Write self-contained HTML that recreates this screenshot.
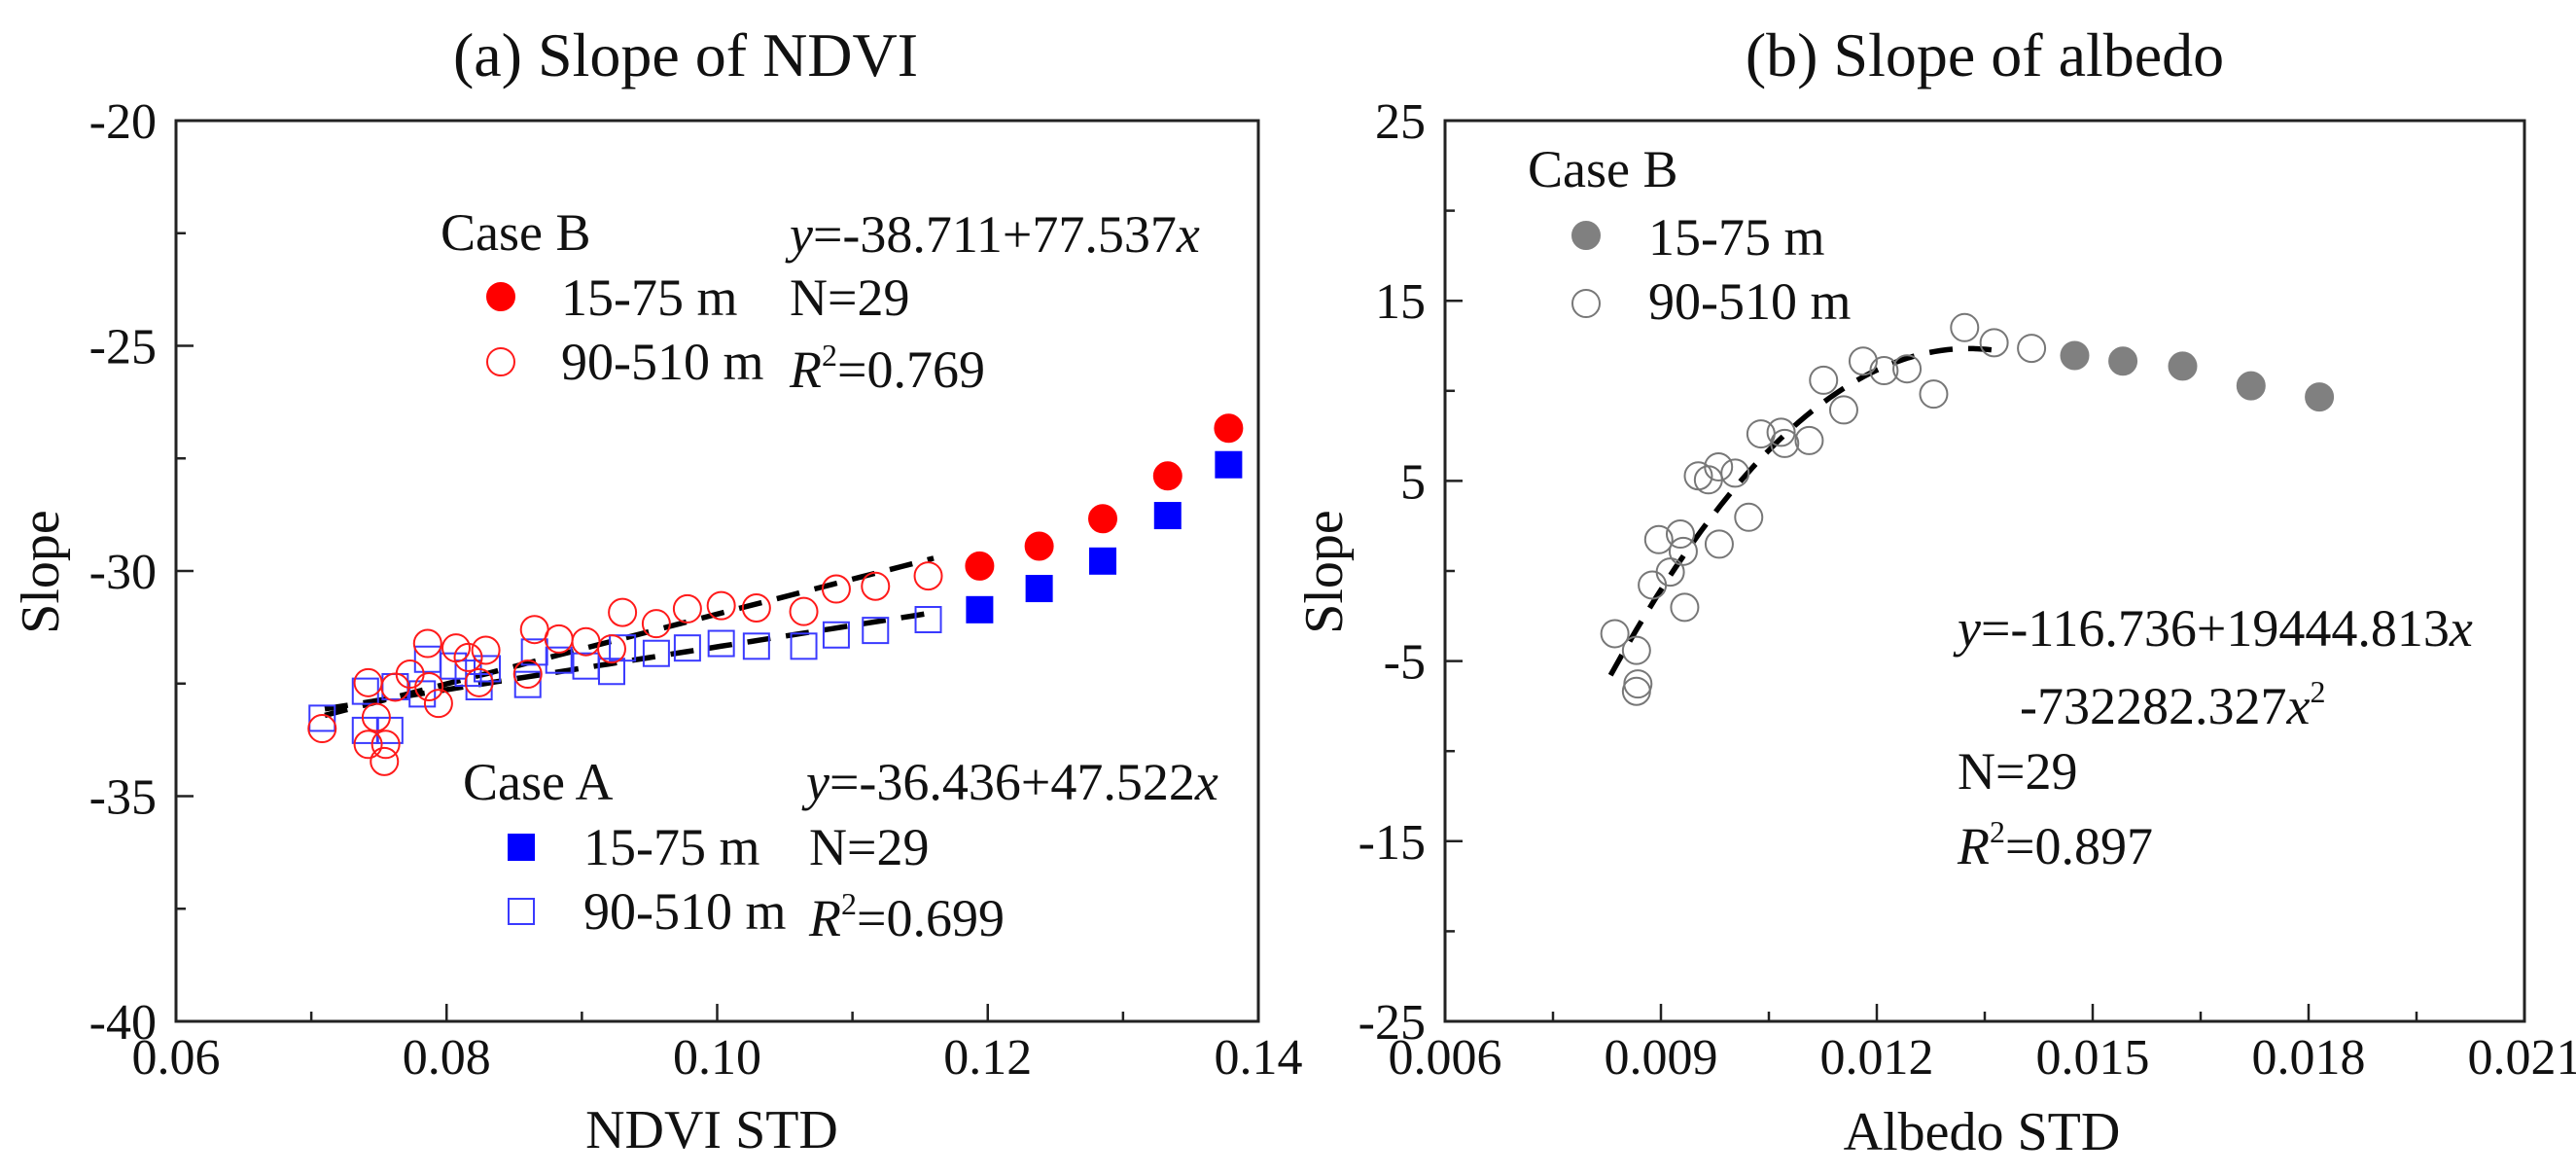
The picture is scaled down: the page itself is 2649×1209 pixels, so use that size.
<!DOCTYPE html>
<html><head><meta charset="utf-8">
<style>
html,body{margin:0;padding:0;background:#fff;}
svg{display:block;font-family:"Liberation Serif",serif;}
</style></head>
<body>
<svg id="fig" width="2649" height="1209" viewBox="0 0 2649 1209" xmlns="http://www.w3.org/2000/svg">
<rect width="2649" height="1209" fill="#fff"/>
<g id="pa"></g>
<g id="pb"></g>
</svg>
<script>
// Panel A data
const aXTicks = [0.06, 0.08, 0.10, 0.12, 0.14];
const aXTickLabels = ["0.06", "0.08", "0.10", "0.12", "0.14"];
const aYTicks = [-40, -35, -30, -25, -20];
const aYTickLabels = ["-40", "-35", "-30", "-25", "-20"];
const bFilledX = [0.1194, 0.1238, 0.1285, 0.1333, 0.1378];
const bFilledY = [-29.89, -29.45, -28.84, -27.89, -26.83];
const aFilledX = [0.1194, 0.1238, 0.1285, 0.1333, 0.1378];
const aFilledY = [-30.86, -30.39, -29.78, -28.77, -27.64];
const bOpenX = [0.0708,0.0742,0.0742,0.0748,0.0755,0.0754,0.0762,0.0773,0.0786,0.0787,0.0794,0.0807,0.0816,0.0824,0.0829,0.0860,0.0865,0.0883,0.0903,0.0922,0.0930,0.0955,0.0978,0.1003,0.1029,0.1064,0.1088,0.1117,0.1156];
const bOpenY = [-33.50,-32.48,-33.85,-33.25,-33.85,-34.23,-32.58,-32.29,-31.61,-32.57,-32.94,-31.71,-31.92,-32.48,-31.76,-32.29,-31.30,-31.51,-31.57,-31.73,-30.92,-31.17,-30.84,-30.77,-30.82,-30.90,-30.40,-30.34,-30.11];
const aOpenX = [0.0708,0.0740,0.0740,0.0758,0.0762,0.0786,0.0782,0.0805,0.0816,0.0824,0.0830,0.0860,0.0865,0.0883,0.0903,0.0922,0.0930,0.0955,0.0978,0.1003,0.1029,0.1064,0.1088,0.1117,0.1156];
const aOpenY = [-33.27,-32.67,-33.54,-33.54,-32.57,-31.96,-32.73,-32.11,-32.27,-32.57,-32.17,-32.52,-31.80,-31.98,-32.11,-32.23,-31.71,-31.83,-31.71,-31.61,-31.67,-31.67,-31.42,-31.32,-31.08];
const bFitCoef = [-38.711, 77.537];
const aFitCoef = [-36.436, 47.522];
const aFitRange = [0.071, 0.116];

// Panel B data
const cXTicks = [0.006, 0.009, 0.012, 0.015, 0.018, 0.021];
const cXTickLabels = ["0.006", "0.009", "0.012", "0.015", "0.018", "0.021"];
const cYTicks = [-25, -15, -5, 5, 15, 25];
const cYTickLabels = ["-25", "-15", "-5", "5", "15", "25"];
const cFilledX = [0.01475, 0.01542, 0.01625, 0.01720, 0.01815];
const cFilledY = [11.96, 11.65, 11.37, 10.28, 9.66];
const cOpenX = [0.00836,0.00866,0.00868,0.00866,0.00888,0.00897,0.00913,0.00927,0.00931,0.00933,0.00952,0.00966,0.00980,0.00981,0.01003,0.01022,0.01039,0.01067,0.01072,0.01106,0.01126,0.01154,0.01181,0.01210,0.01242,0.01279,0.01322,0.01363,0.01415];
const cOpenY = [-3.48,-4.41,-6.27,-6.68,-0.78,1.74,-0.06,2.05,1.09,-2.02,5.28,5.06,5.78,1.49,5.43,2.98,7.61,7.70,7.08,7.24,10.59,8.94,11.65,11.12,11.22,9.82,13.51,12.67,12.36];
const cFitCoef = [-116.736, 19444.813, -732282.327];
const cFitRange = [0.0083, 0.0137];

const NS = "http://www.w3.org/2000/svg";
function mk(parent, tag, attrs, text) {
  const e = document.createElementNS(NS, tag);
  for (const k in attrs) e.setAttribute(k, attrs[k]);
  if (text !== undefined) e.textContent = text;
  parent.appendChild(e);
  return e;
}
function scale(d0, d1, r0, r1) { return v => r0 + (v - d0) / (d1 - d0) * (r1 - r0); }

function frame(g, L, R, T, B, xT, xL, yT, yL, xs, ys, nMinorX, nMinorY) {
  const f = mk(g, 'rect', {x: L, y: T, width: R - L, height: B - T, fill: 'none', stroke: '#222', 'stroke-width': 3});
  
  
  const xg = mk(g, 'g', {});
  
  
  for (let i = 0; i < xT.length; i++) {
    const x = xs(xT[i]);
    mk(xg, 'line', {x1: x, x2: x, y1: B, y2: B - 18, stroke: '#222', 'stroke-width': 2.5});
    if (i < xT.length - 1) {
      for (let m = 1; m <= nMinorX; m++) {
        const xm = xs(xT[i] + (xT[i + 1] - xT[i]) * m / (nMinorX + 1));
        mk(xg, 'line', {x1: xm, x2: xm, y1: B, y2: B - 10, stroke: '#222', 'stroke-width': 2.5});
      }
    }
    const t = mk(xg, 'text', {x: x, y: 1104, 'font-size': 52, 'text-anchor': 'middle', fill: '#111'}, xL[i]);
    
    
  }
  const yg = mk(g, 'g', {});
  
  
  for (let i = 0; i < yT.length; i++) {
    const y = ys(yT[i]);
    mk(yg, 'line', {x1: L, x2: L + 18, y1: y, y2: y, stroke: '#222', 'stroke-width': 2.5});
    if (i < yT.length - 1) {
      for (let m = 1; m <= nMinorY; m++) {
        const ym = ys(yT[i] + (yT[i + 1] - yT[i]) * m / (nMinorY + 1));
        mk(yg, 'line', {x1: L, x2: L + 10, y1: ym, y2: ym, stroke: '#222', 'stroke-width': 2.5});
      }
    }
    const t = mk(yg, 'text', {x: L - 20, y: y + 18, 'font-size': 52, 'text-anchor': 'end', fill: '#111'}, yL[i]);
    
    
  }
}
function circle(g, x, y, filled, color, name) {
  const c = mk(g, 'circle', {cx: x, cy: y, r: 14, fill: filled ? color : 'none', stroke: color, 'stroke-width': 2});
  
  
}
function square(g, x, y, filled, color, name) {
  const s = mk(g, 'rect', {x: x - 13, y: y - 13, width: 26, height: 26, fill: filled ? color : 'none', stroke: color, 'stroke-width': 2});
  
  
}
function fitLine(g, coef, range, xs, ys, name) {
  let d = '';
  for (let i = 0; i <= 60; i++) {
    const x = range[0] + (range[1] - range[0]) * i / 60;
    let y = 0;
    for (let k = 0; k < coef.length; k++) y += coef[k] * Math.pow(x, k);
    d += (i ? 'L' : 'M') + xs(x).toFixed(1) + ' ' + ys(y).toFixed(1);
  }
  const p = mk(g, 'path', {d: d, fill: 'none', stroke: '#000', 'stroke-width': 5.5, 'stroke-dasharray': '24 16'});
  
  
}
function txt(g, x, y, s, size, name, extra) {
  const t = mk(g, 'text', Object.assign({x: x, y: y, 'font-size': size, fill: '#111'}, extra || {}));
  t.innerHTML = s;
  
  
  return t;
}
const SUP = '<tspan font-size="32" dy="-22">2</tspan><tspan dy="22">';
const FS = 54;

// Panel A
(function () {
  const g = document.getElementById('pa');
  const L = 181, R = 1294, T = 124, B = 1050;
  const xs = scale(0.06, 0.14, L, R), ys = scale(-40, -20, B, T);
  frame(g, L, R, T, B, aXTicks, aXTickLabels, aYTicks, aYTickLabels, xs, ys, 1, 1);
  txt(g, 705, 78, '(a) Slope of NDVI', 64, 'panel-a-title', {'text-anchor': 'middle'});
  txt(g, 732, 1180, 'NDVI STD', 56, 'x-axis-title', {'text-anchor': 'middle'});
  txt(g, 60, 588, 'Slope', 56, 'y-axis-title', {'text-anchor': 'middle', transform: 'rotate(-90 60 588)'});
  fitLine(g, aFitCoef, aFitRange, xs, ys, 'case-a-fit-line');
  fitLine(g, bFitCoef, aFitRange, xs, ys, 'case-b-fit-line');
  for (let i = 0; i < aOpenX.length; i++) square(g, xs(aOpenX[i]), ys(aOpenY[i]), false, '#3a3aff', 'case-a-90-510-point');
  for (let i = 0; i < aFilledX.length; i++) square(g, xs(aFilledX[i]), ys(aFilledY[i]), true, '#0000ff', 'case-a-15-75-point');
  for (let i = 0; i < bOpenX.length; i++) circle(g, xs(bOpenX[i]), ys(bOpenY[i]), false, '#ff1a1a', 'case-b-90-510-point');
  for (let i = 0; i < bFilledX.length; i++) circle(g, xs(bFilledX[i]), ys(bFilledY[i]), true, '#ff0000', 'case-b-15-75-point');
  txt(g, 453, 257, 'Case B', FS, 'case-b-legend-title');
  circle(g, 515, 305, true, '#ff0000', 'legend-case-b-15-75-marker');
  txt(g, 577, 324, '15-75 m', FS, 'legend-case-b-15-75-label');
  circle(g, 515, 372, false, '#ff1a1a', 'legend-case-b-90-510-marker');
  txt(g, 577, 390, '90-510 m', FS, 'legend-case-b-90-510-label');
  txt(g, 812, 259, '<tspan font-style="italic">y</tspan>=-38.711+77.537<tspan font-style="italic">x</tspan>', FS, 'case-b-equation');
  txt(g, 812, 324, 'N=29', FS, 'case-b-n');
  txt(g, 812, 398, '<tspan font-style="italic">R</tspan>' + SUP + '=0.769</tspan>', FS, 'case-b-r2');
  txt(g, 476, 822, 'Case A', FS, 'case-a-legend-title');
  square(g, 536, 871, true, '#0000ff', 'legend-case-a-15-75-marker');
  txt(g, 600, 889, '15-75 m', FS, 'legend-case-a-15-75-label');
  square(g, 536, 937, false, '#3a3aff', 'legend-case-a-90-510-marker');
  txt(g, 600, 955, '90-510 m', FS, 'legend-case-a-90-510-label');
  txt(g, 829, 822, '<tspan font-style="italic">y</tspan>=-36.436+47.522<tspan font-style="italic">x</tspan>', FS, 'case-a-equation');
  txt(g, 832, 889, 'N=29', FS, 'case-a-n');
  txt(g, 832, 962, '<tspan font-style="italic">R</tspan>' + SUP + '=0.699</tspan>', FS, 'case-a-r2');
})();

// Panel B
(function () {
  const g = document.getElementById('pb');
  const L = 1486, R = 2596, T = 124, B = 1050;
  const xs = scale(0.006, 0.021, L, R), ys = scale(-25, 25, B, T);
  frame(g, L, R, T, B, cXTicks, cXTickLabels, cYTicks, cYTickLabels, xs, ys, 1, 1);
  txt(g, 2041, 78, '(b) Slope of albedo', 64, 'panel-b-title', {'text-anchor': 'middle'});
  txt(g, 2038, 1182, 'Albedo STD', 56, 'x-axis-title', {'text-anchor': 'middle'});
  txt(g, 1380, 588, 'Slope', 56, 'y-axis-title', {'text-anchor': 'middle', transform: 'rotate(-90 1380 588)'});
  fitLine(g, cFitCoef, cFitRange, xs, ys, 'albedo-fit-line');
  for (let i = 0; i < cOpenX.length; i++) circle(g, xs(cOpenX[i]), ys(cOpenY[i]), false, '#777', 'albedo-90-510-point');
  for (let i = 0; i < cFilledX.length; i++) circle(g, xs(cFilledX[i]), ys(cFilledY[i]), true, '#808080', 'albedo-15-75-point');
  txt(g, 1571, 192, 'Case B', FS, 'albedo-legend-title');
  circle(g, 1631, 242, true, '#808080', 'legend-albedo-15-75-marker');
  txt(g, 1695, 262, '15-75 m', FS, 'legend-albedo-15-75-label');
  circle(g, 1631, 312, false, '#777', 'legend-albedo-90-510-marker');
  txt(g, 1695, 328, '90-510 m', FS, 'legend-albedo-90-510-label');
  txt(g, 2013, 664, '<tspan font-style="italic">y</tspan>=-116.736+19444.813<tspan font-style="italic">x</tspan>', FS, 'albedo-equation-line1');
  txt(g, 2077, 744, '-732282.327<tspan font-style="italic">x</tspan><tspan font-size="32" dy="-22">2</tspan>', FS, 'albedo-equation-line2');
  txt(g, 2013, 811, 'N=29', FS, 'albedo-n');
  txt(g, 2013, 888, '<tspan font-style="italic">R</tspan>' + SUP + '=0.897</tspan>', FS, 'albedo-r2');
})();
</script>
</body></html>
